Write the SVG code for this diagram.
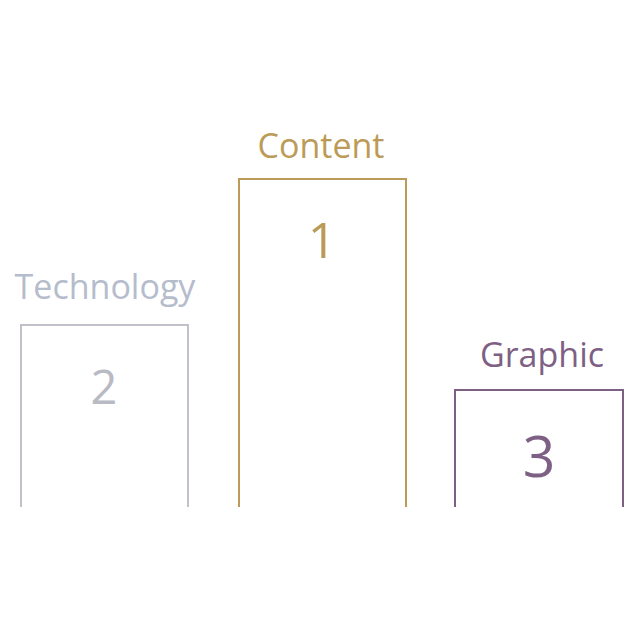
<svg xmlns="http://www.w3.org/2000/svg" width="630" height="630" viewBox="0 0 630 630">
<style>
text{font-family:"Open Sans","Noto Sans",sans-serif;text-anchor:middle}
.box{fill:none;stroke-width:2}
.lbl{font-size:34px}
</style>
<rect width="630" height="630" fill="#ffffff"/>
<g id="technology">
<text class="lbl" x="105" y="299" fill="#b5bccb">Technology</text>
<path class="box" d="M21,507 V325 H188 V507" stroke="#c0c1c9"/>
<text x="104" y="404" font-size="47" fill="#b9bac4">2</text>
</g>
<g id="content">
<text class="lbl" x="321" y="158" fill="#bb9b57">Content</text>
<path class="box" d="M239,507 V179 H406 V507" stroke="#bb9b57"/>
<text x="322" y="258" font-size="50" fill="#bb9b57">1</text>
</g>
<g id="graphic">
<text class="lbl" x="542" y="367" fill="#7e6084">Graphic</text>
<path class="box" d="M455,507 V390 H623 V507" stroke="#7e6084"/>
<text x="539" y="477" font-size="57" fill="#7e6084">3</text>
</g>
</svg>
